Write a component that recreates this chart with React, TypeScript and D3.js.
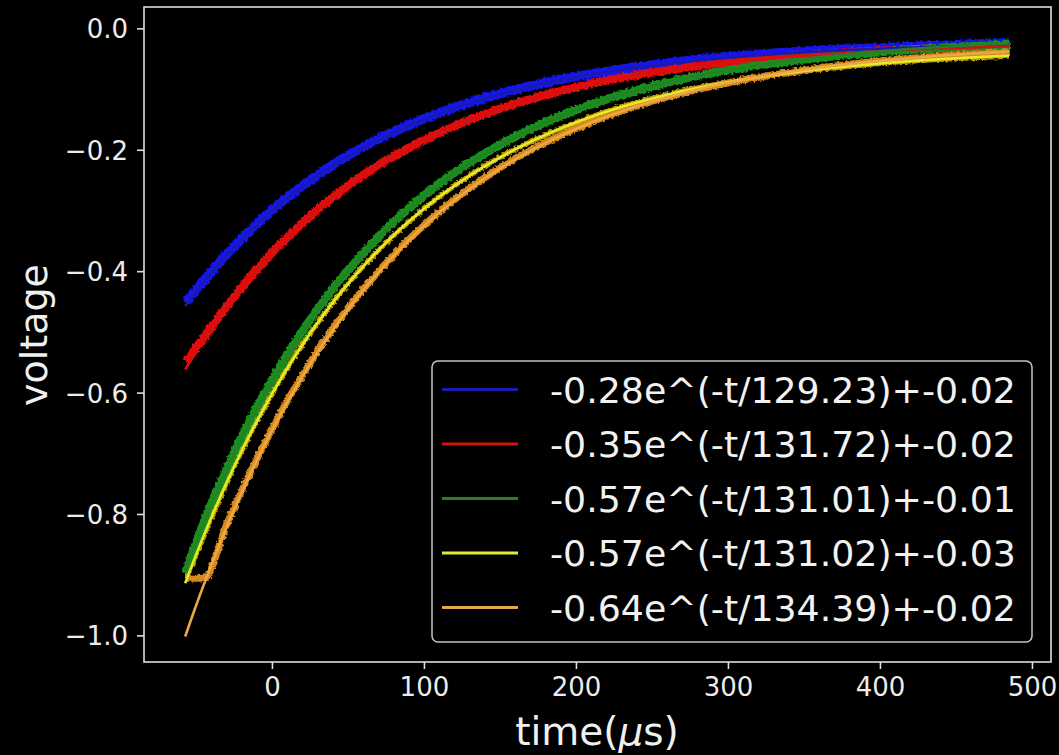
import React from "react";
import * as d3 from "d3";

// Sample times (µs) of the recorded traces
const TIME_US = [-57, -45, -30, -15, 0, 15, 30, 50, 70, 90, 110, 135, 160, 190, 220, 260, 300, 350, 400, 450, 485];

// Recorded voltages for each trace
const BLUE_V = [-0.45, -0.414, -0.371, -0.333, -0.298, -0.268, -0.24, -0.208, -0.181, -0.158, -0.138, -0.117, -0.1, -0.083, -0.07, -0.056, -0.046, -0.037, -0.031, -0.026, -0.023];
const RED_V = [-0.548, -0.508, -0.457, -0.41, -0.368, -0.331, -0.297, -0.258, -0.224, -0.196, -0.171, -0.145, -0.123, -0.102, -0.085, -0.068, -0.055, -0.044, -0.036, -0.031, -0.028];
const GREEN_V = [-0.895, -0.812, -0.724, -0.646, -0.578, -0.516, -0.461, -0.397, -0.342, -0.295, -0.254, -0.212, -0.177, -0.143, -0.116, -0.088, -0.068, -0.05, -0.038, -0.03, -0.026];
const YELLOW_V = [-0.905, -0.834, -0.747, -0.669, -0.6, -0.538, -0.483, -0.419, -0.364, -0.317, -0.276, -0.233, -0.198, -0.164, -0.136, -0.108, -0.088, -0.07, -0.057, -0.049, -0.045];
const ORANGE_V = [-0.905, -0.905, -0.816, -0.733, -0.658, -0.59, -0.53, -0.459, -0.399, -0.346, -0.301, -0.253, -0.213, -0.175, -0.144, -0.112, -0.089, -0.068, -0.053, -0.043, -0.038];

// Exponential fit parameters: A·e^(-t/τ) + C
const FIT_AMP = [-0.28, -0.35, -0.57, -0.57, -0.64];
const FIT_TAU = [129.23, 131.72, 131.01, 131.02, 134.39];
const FIT_OFF = [-0.02, -0.02, -0.01, -0.03, -0.02];

const DATA_COLORS = ["#1212e6", "#e00808", "#14921a", "#c09a00", "#d98a1c"];
const DATA_WIDTHS = [9.5, 8.5, 8.5, 5, 7];
const FIT_COLORS = ["#1a1ab0", "#d41212", "#2a7e2a", "#e2ec2c", "#eaa848"];

const X_TICKS = [0, 100, 200, 300, 400, 500];
const Y_TICKS = [-1.0, -0.8, -0.6, -0.4, -0.2, 0.0];

const W = 1059;
const H = 755;
const PLOT = { left: 144, right: 1051, top: 7, bottom: 662 };
const FONT = "'DejaVu Sans', Verdana, sans-serif";
const AXIS_COLOR = "#dedede";

export default function App() {
  const x = d3.scaleLinear().domain([-84.5, 512.2]).range([PLOT.left, PLOT.right]);
  const y = d3.scaleLinear().domain([-1.043, 0.036]).range([PLOT.bottom, PLOT.top]);

  const traces = [BLUE_V, RED_V, GREEN_V, YELLOW_V, ORANGE_V];
  const drawOrder = [0, 1, 3, 2, 4];

  const line = d3
    .line<[number, number]>()
    .x((d) => x(d[0]))
    .y((d) => y(d[1]))
    .curve(d3.curveMonotoneX);

  const fitTimes = d3.range(-57.4, 485.5, 2);
  const fitPath = (i: number) =>
    line(fitTimes.map((t) => [t, FIT_AMP[i] * Math.exp(-t / FIT_TAU[i]) + FIT_OFF[i]] as [number, number]));

  const labels = FIT_AMP.map(
    (a, i) => `${a.toFixed(2)}e^(-t/${FIT_TAU[i].toFixed(2)})+${FIT_OFF[i].toFixed(2)}`
  );

  const fmtY = (v: number) => (v < 0 ? "\u2212" : "") + Math.abs(v).toFixed(1);

  const legend = { x: 432, y: 361, w: 600, h: 281 };
  const rowY = [389.5, 444, 498.5, 553, 607.5];

  return (
    <svg
      width={W}
      height={H}
      style={{ position: "absolute", left: 0, top: 0, background: "#000" }}
      fontFamily={FONT}
    >
      <defs>
        <filter id="jitter" x="-5%" y="-5%" width="110%" height="110%">
          <feTurbulence type="fractalNoise" baseFrequency="0.35" numOctaves="2" seed="3" />
          <feDisplacementMap in="SourceGraphic" scale="4.5" xChannelSelector="R" yChannelSelector="G" />
        </filter>
        <clipPath id="plotArea">
          <rect x={PLOT.left} y={PLOT.top} width={PLOT.right - PLOT.left} height={PLOT.bottom - PLOT.top} />
        </clipPath>
      </defs>
      <rect x={0} y={0} width={W} height={H} fill="#000" />

      <g clipPath="url(#plotArea)">
        {/* recorded traces */}
        <g filter="url(#jitter)">
          {drawOrder.map((i) => (
            <path
              key={`d${i}`}
              d={line(TIME_US.map((t, k) => [t, traces[i][k]] as [number, number])) || ""}
              fill="none"
              stroke={DATA_COLORS[i]}
              strokeWidth={DATA_WIDTHS[i]}
              strokeLinejoin="round"
              strokeLinecap="butt"
            />
          ))}
        </g>
        {/* fitted curves */}
        {FIT_AMP.map((_, i) => (
          <path
            key={`f${i}`}
            d={fitPath(i) || ""}
            fill="none"
            stroke={FIT_COLORS[i]}
            strokeWidth={2.6}
          />
        ))}
      </g>

      {/* frame */}
      <rect
        x={PLOT.left}
        y={PLOT.top}
        width={PLOT.right - PLOT.left}
        height={PLOT.bottom - PLOT.top}
        fill="none"
        stroke={AXIS_COLOR}
        strokeWidth={1.6}
      />

      {/* x axis */}
      {X_TICKS.map((t) => (
        <g key={`xt${t}`}>
          <line x1={x(t)} x2={x(t)} y1={PLOT.bottom} y2={PLOT.bottom + 7} stroke={AXIS_COLOR} strokeWidth={1.6} />
          <text x={x(t)} y={696} fill="#ececec" fontSize={26} textAnchor="middle">
            {t}
          </text>
        </g>
      ))}

      {/* y axis */}
      {Y_TICKS.map((v) => (
        <g key={`yt${v}`}>
          <line x1={PLOT.left - 7} x2={PLOT.left} y1={y(v)} y2={y(v)} stroke={AXIS_COLOR} strokeWidth={1.6} />
          <text x={128} y={y(v) + 9.5} fill="#ececec" fontSize={26} textAnchor="end">
            {fmtY(v)}
          </text>
        </g>
      ))}

      {/* axis titles */}
      <text x={597} y={745} fill="#f0f0f0" fontSize={39} textAnchor="middle">
        time(<tspan fontStyle="italic">μ</tspan>s)
      </text>
      <text
        transform={`translate(47, 335) rotate(-90)`}
        fill="#f0f0f0"
        fontSize={38}
        textAnchor="middle"
      >
        voltage
      </text>

      {/* legend */}
      <rect
        x={legend.x}
        y={legend.y}
        width={legend.w}
        height={legend.h}
        rx={6}
        fill="#000"
        fillOpacity={0.85}
        stroke="#c4c4c4"
        strokeWidth={1.5}
      />
      {labels.map((lab, i) => (
        <g key={`lg${i}`}>
          <line x1={442} x2={518} y1={rowY[i]} y2={rowY[i]} stroke={FIT_COLORS[i]} strokeWidth={3} />
          <text x={550} y={rowY[i] + 13} fill="#f2f2f2" fontSize={36.3}>
            {lab}
          </text>
        </g>
      ))}
    </svg>
  );
}
